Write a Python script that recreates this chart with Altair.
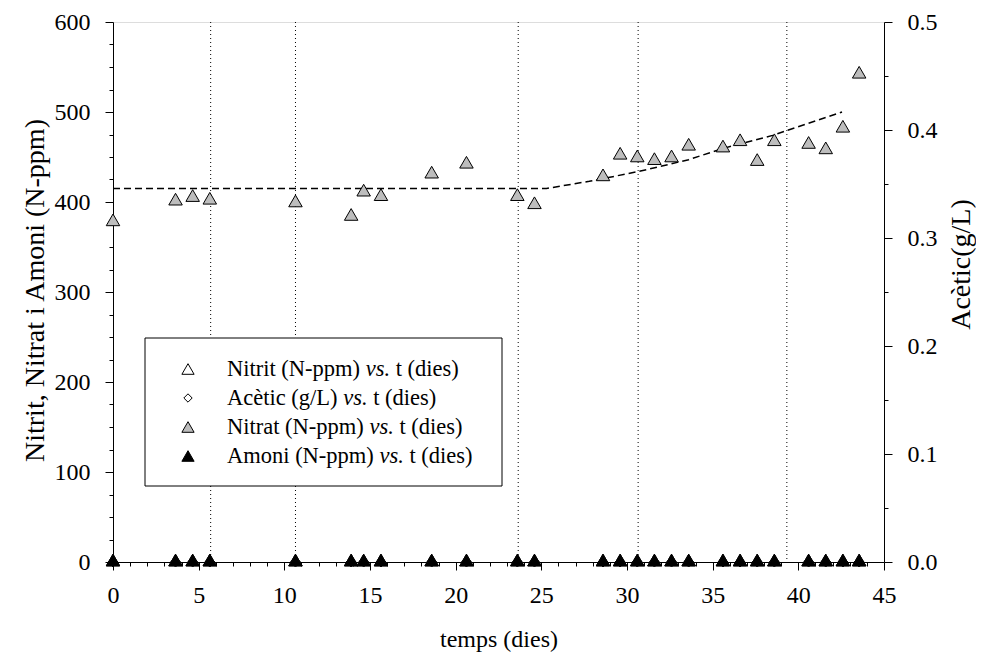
import altair as alt
import pandas as pd

FONT = "Liberation Serif"

# ---------------- data ----------------
t_days = [0, 3.65, 4.65, 5.65, 10.65, 13.9, 14.63, 15.64, 18.6, 20.63, 23.6, 24.6,
          28.6, 29.6, 30.6, 31.6, 32.6, 33.6, 35.6, 36.6, 37.6, 38.6,
          40.6, 41.6, 42.6, 43.55]
nitrat = [378, 401, 405, 402, 399, 384, 411, 406, 431, 442, 406, 397,
          428, 452, 449, 446, 449, 462, 460, 467, 445, 467,
          464, 458, 482, 542]
nitrit = [0] * len(t_days)
amoni = [0] * len(t_days)
acetic = [0.0] * len(t_days)

fit_t = [0, 25.3, 27.8, 30.7, 33.6, 35.6, 38.5, 42.55]
fit_v = [415, 415, 423, 434, 447, 459.5, 474, 500]

vlines = [5.7, 10.65, 23.65, 30.65, 39.33]

leg_pre = ["Nitrit (N-ppm)", "Acètic (g/L)", "Nitrat (N-ppm)", "Amoni (N-ppm)"]
leg_shape = ["triangle-up", "diamond", "triangle-up", "triangle-up"]
leg_fill = ["white", "white", "#bdbdbd", "black"]
leg_size = [150, 70, 150, 150]

x_ticks = list(range(0, 46))
yl_ticks = list(range(0, 601, 25))
yr_ticks = [round(i * 0.05, 2) for i in range(0, 11)]

# triangle anchored at its centroid (as in the original plotting program)
TRI = "M0,-1.155L-1,0.577L1,0.577Z"

# ---------------- helpers ----------------
TIMES = {' ': 250, '(': 333, ')': 333, '-': 333, '.': 250, '/': 278, 'N': 722, 'A': 722,
         'L': 611, 'i': 278, 't': 278, 'r': 333, 'p': 500, 'm': 778, 'c': 444, 'è': 444,
         'g': 500, 'a': 444, 'o': 500, 'n': 500, 'd': 500, 'e': 444, 's': 389, 'v': 500}
TIMES_IT = {'v': 444, 's': 389, '.': 250}
LEG_FS = 22.5
YT_FS = 28


def width(s, table=TIMES, fs=LEG_FS):
    return sum(table.get(c, 500) for c in s) / 1000 * fs


df = pd.DataFrame({"t": t_days, "nitrat": nitrat, "nitrit": nitrit,
                   "amoni": amoni, "acetic": acetic})
fit_df = pd.DataFrame({"t": fit_t, "v": fit_v})
vl_df = pd.DataFrame({"t": vlines})

LX_SYM, LX_TXT, LY0, LDY = 75, 114, 347, 29
rows = []
for i, pre in enumerate(leg_pre):
    x_vs = LX_TXT + width(pre + " ")
    x_post = x_vs + width("vs.", TIMES_IT) + width(" ")
    rows.append({"pre": pre, "vs": "vs.", "post": "t (dies)", "shape": leg_shape[i],
                 "fill": leg_fill[i], "size": leg_size[i], "ly": LY0 + i * LDY,
                 "lx": LX_SYM, "x0": LX_TXT, "x1": x_vs, "x2": x_post})
leg_df = pd.DataFrame(rows)

W, H = 771, 540

xscale = alt.Scale(domain=[0, 45], nice=False, zero=False)
xaxis = alt.Axis(
    values=x_ticks,
    labelExpr="datum.value % 5 == 0 ? datum.label : ''",
    tickSize={"condition": {"test": "datum.value % 5 == 0", "value": 8}, "value": 4},
    labelFont=FONT, labelFontSize=24, labelColor="black", labelPadding=13,
    labelOverlap=False, labelFlush=False, grid=False,
    domainColor="black", tickColor="black",
    title="temps (dies)", titleFont=FONT, titleFontSize=24, titleFontWeight="normal",
    titleColor="black", titleX=W / 2, titleY=77, titleBaseline="middle", titleAlign="center",
)


def X(field):
    return alt.X(f"{field}:Q", scale=xscale, axis=xaxis, title="temps (dies)")


yl_scale = alt.Scale(domain=[0, 600], nice=False, zero=False)
yl_axis = alt.Axis(
    values=yl_ticks,
    labelExpr="datum.value % 100 == 0 ? datum.label : ''",
    tickSize={"condition": {"test": "datum.value % 100 == 0", "value": 8}, "value": 4},
    labelFont=FONT, labelFontSize=24, labelColor="black", labelPadding=15,
    labelOverlap=False, labelFlush=False, grid=False,
    domainColor="black", tickColor="black",
    title="Nitrit, Nitrat i Amoni (N-ppm)", titleFont=FONT, titleFontSize=YT_FS,
    titleFontWeight="normal", titleColor="black", titleAngle=270,
    titleX=-78, titleY=H / 2 - 2, titleBaseline="middle", titleAlign="center",
)
yr_scale = alt.Scale(domain=[0, 0.5], nice=False, zero=False)
yr_axis = alt.Axis(
    orient="right",
    values=yr_ticks,
    labelExpr="round(datum.value * 100) % 10 == 0 ? format(datum.value, '.1f') : ''",
    tickSize={"condition": {"test": "round(datum.value * 100) % 10 == 0", "value": 8}, "value": 4},
    labelFont=FONT, labelFontSize=24, labelColor="black", labelPadding=15,
    labelOverlap=False, labelFlush=False, grid=False,
    domainColor="black", tickColor="black",
    title="Acètic(g/L)", titleFont=FONT, titleFontSize=YT_FS,
    titleFontWeight="normal", titleColor="black", titleAngle=270,
    titleX=77, titleY=242, titleBaseline="middle", titleAlign="center",
)


def YL(field, axis=None):
    return alt.Y(f"{field}:Q", scale=yl_scale, axis=axis)


base = alt.Chart(df)

rules = alt.Chart(vl_df).mark_rule(color="black", strokeWidth=1, strokeDash=[1, 3]).encode(
    x=X("t"))

fit = alt.Chart(fit_df).mark_line(color="black", strokeWidth=1.5, strokeDash=[7, 4]).encode(
    x=X("t"), y=YL("v"))

acet = base.mark_point(shape="diamond", filled=True, fill="white", stroke="black",
                       strokeWidth=1, size=100, opacity=1).encode(
    x=X("t"), y=alt.Y("acetic:Q", scale=yr_scale, axis=yr_axis))

nitri = base.mark_point(shape=TRI, filled=True, fill="white", stroke="black",
                        strokeWidth=1, size=182, opacity=1).encode(
    x=X("t"), y=YL("nitrit"))

nitra = base.mark_point(shape=TRI, filled=True, fill="#bdbdbd", stroke="black",
                        strokeWidth=1, size=182, opacity=1).encode(
    x=X("t"), y=YL("nitrat", yl_axis))

amo = base.mark_point(shape=TRI, filled=True, fill="black", stroke="black",
                      strokeWidth=1, size=182, opacity=1).encode(
    x=X("t"), y=YL("amoni"))

box = alt.Chart(pd.DataFrame({"a": [0]})).mark_rect(
    fill="white", stroke="black", strokeWidth=1).encode(
    x=alt.value(32), x2=alt.value(389), y=alt.value(316), y2=alt.value(464))

leg = alt.Chart(leg_df)
leg_sym = leg.mark_point(filled=True, stroke="black", strokeWidth=1, opacity=1).encode(
    x=alt.X("lx:Q", scale=None), y=alt.Y("ly:Q", scale=None),
    shape=alt.Shape("shape:N", scale=None), fill=alt.Fill("fill:N", scale=None),
    size=alt.Size("size:Q", scale=None))
leg_t0 = leg.mark_text(align="left", baseline="middle", font=FONT, fontSize=LEG_FS,
                       color="black").encode(
    x=alt.X("x0:Q", scale=None), y=alt.Y("ly:Q", scale=None), text="pre:N")
leg_t1 = leg.mark_text(align="left", baseline="middle", font=FONT, fontSize=LEG_FS,
                       fontStyle="italic", color="black").encode(
    x=alt.X("x1:Q", scale=None), y=alt.Y("ly:Q", scale=None), text="vs:N")
leg_t2 = leg.mark_text(align="left", baseline="middle", font=FONT, fontSize=LEG_FS,
                       color="black").encode(
    x=alt.X("x2:Q", scale=None), y=alt.Y("ly:Q", scale=None), text="post:N")

chart = alt.layer(
    rules, fit, acet, nitri, nitra, amo, box, leg_sym, leg_t0, leg_t1, leg_t2
).resolve_scale(y="independent").properties(
    width=W, height=H,
    autosize=alt.AutoSizeParams(type="none"),
    padding={"left": 105, "top": 14, "right": 92, "bottom": 92},
).configure_view(stroke="black", strokeWidth=1).configure(background="white")

chart.save("out.html", embed_options={"renderer": "svg", "actions": False})
